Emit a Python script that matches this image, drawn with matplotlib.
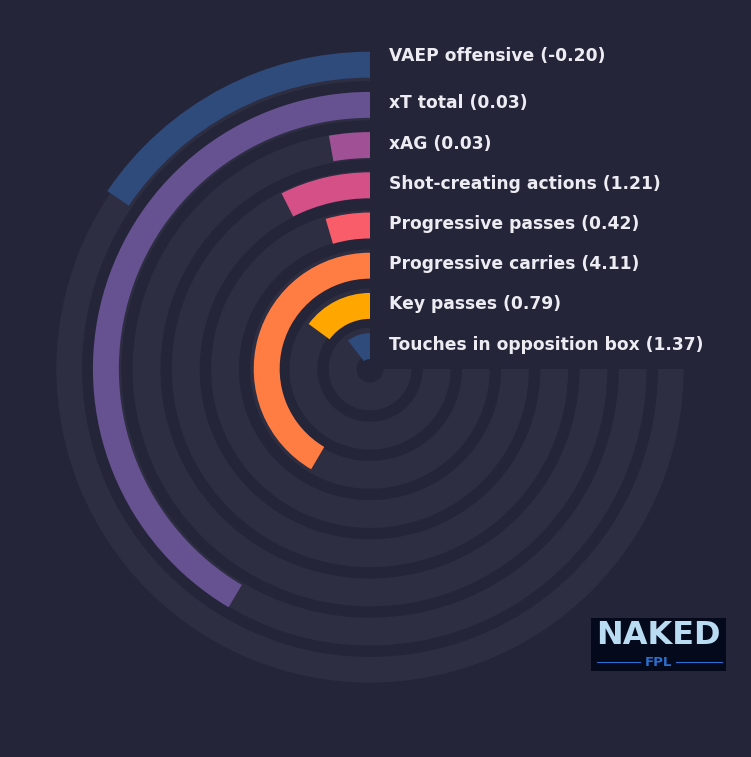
import numpy as np
import matplotlib
matplotlib.use("Agg")
import matplotlib.pyplot as plt
from matplotlib.patches import FancyBboxPatch

# metricas (de fora para dentro) e percentis usados no tamanho das barras
metrics = ["VAEP offensive", "xT total", "xAG", "Shot-creating actions",
           "Progressive passes", "Progressive carries", "Key passes",
           "Touches in opposition box"]
raw_values = ["-0.20", "0.03", "0.03", "1.21", "0.42", "4.11", "0.79", "1.37"]
percentiles = [20.7, 55.3, 3.7, 9.9, 6.1, 55.4, 19.9, 14.0]
colors = ["#2f4b7c", "#665191", "#a05195", "#d45087", "#f95d6a",
          "#ff7c43", "#ffa600", "#2f4b7c"]

BG = "#25253a"
TRACK = "#2e2e43"
MAX_ANGLE = 1.5 * np.pi  # 270 graus

fig = plt.figure(figsize=(7.51, 7.57), dpi=100, facecolor=BG)
W, H = 751, 757
cx, cy = 370, 369


def polar_ax(R):
    # eixo polar centrado em (cx, cy) com raio R em pixels
    a = fig.add_axes([(cx - R) / W, (H - cy - R) / H, 2 * R / W, 2 * R / H],
                     projection="polar")
    a.set_facecolor("none")
    a.set_theta_zero_location("N")
    a.set_theta_direction(1)
    a.set_rlim(0, 8)
    a.set_xticks([])
    a.set_yticks([])
    a.grid(False)
    a.spines["polar"].set_visible(False)
    return a


n = len(metrics)
ax_track = polar_ax(8 * 39.2)
ax = polar_ax(8 * 40.2)

# trilhas de fundo
track_r = [0.7 + (n - 1 - i) for i in range(n)]
ax_track.barh(track_r, [MAX_ANGLE] * n, left=0, height=0.71, color=TRACK, align="center")

# barras
radii = [0.57 + (n - 1 - i) for i in range(n)]
widths = [p / 100 * MAX_ANGLE for p in percentiles]
ax.barh(radii, widths, left=0, height=0.645, color=colors, align="center")

# rotulos a direita do topo
for i, (m, v, r) in enumerate(zip(metrics, raw_values, radii)):
    dy = 9 if i == 0 else 1.5
    ax.annotate(f"{m} ({v})", xy=(0, r), xytext=(19, dy), textcoords="offset pixels",
                ha="left", va="center", fontsize=12.3, fontweight="bold",
                color="#ececf2", annotation_clip=False)

# logo
fig.patches.append(FancyBboxPatch((591 / W, (H - 671) / H), 135 / W, 53 / H,
                                  boxstyle="square,pad=0", transform=fig.transFigure,
                                  facecolor="#040a1c", edgecolor="none"))
fig.text(658 / W, (H - 635) / H, "NAKED", ha="center", va="center", fontsize=23,
         fontweight="bold", color="#b9dcf2")
fig.text(658 / W, (H - 662) / H, "FPL", ha="center", va="center", fontsize=9.5,
         fontweight="bold", color="#2a6fd0")
fig.lines.append(plt.Line2D([597 / W, 640 / W], [(H - 662) / H] * 2,
                            transform=fig.transFigure, color="#2a6fd0", lw=0.8))
fig.lines.append(plt.Line2D([676 / W, 722 / W], [(H - 662) / H] * 2,
                            transform=fig.transFigure, color="#2a6fd0", lw=0.8))

fig.savefig("out.png", dpi=100, facecolor=BG)
